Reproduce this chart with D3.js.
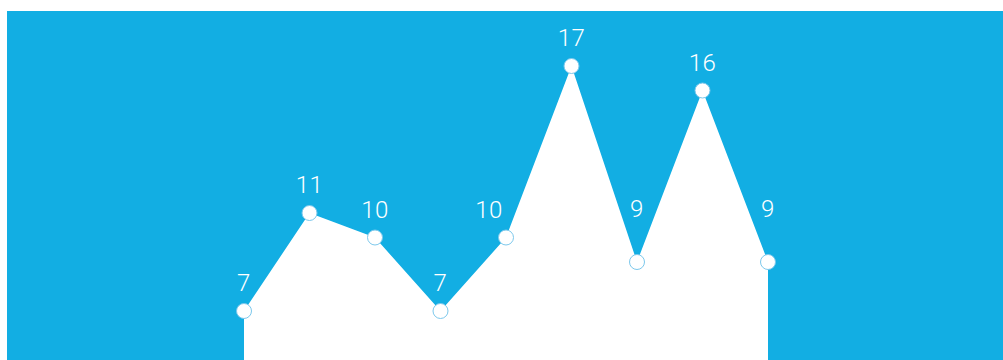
<!DOCTYPE html>
<html><head><meta charset="utf-8">
<script src="https://cdn.jsdelivr.net/npm/d3@7"></script>
<style>body{margin:0;background:#fff;overflow:hidden}svg{display:block}</style>
</head><body>
<script>
const categories = ["1","2","3","4","5","6","7","8","9"];
const values = [7, 11, 10, 7, 10, 17, 9, 16, 9];

const W = 1003, H = 360;
const svg = d3.select("body").append("svg").attr("width", W).attr("height", H);
svg.append("rect").attr("x", 7).attr("y", 11).attr("width", W - 7).attr("height", H - 11).attr("fill", "#12aee3");

const x = d3.scalePoint().domain(categories).range([244, 768]);
const y = d3.scaleLinear().domain([0, 17]).range([482.5, 66]);

const pts = values.map((v, i) => [x(categories[i]), y(v)]);

const area = d3.area().x(d => d[0]).y0(H + 5).y1(d => d[1]);
svg.append("path").datum(pts).attr("d", area).attr("fill", "#fff");

svg.selectAll("circle").data(pts).join("circle")
  .attr("cx", d => d[0]).attr("cy", d => d[1]).attr("r", 7.5)
  .attr("fill", "#fff").attr("stroke", "#7cc8ec").attr("stroke-width", 1);

// label placement avoiding the line
function lineY(px) {
  for (let i = 0; i < pts.length - 1; i++) {
    const [x0, y0] = pts[i], [x1, y1] = pts[i + 1];
    if (px >= x0 && px <= x1) return y0 + (y1 - y0) * (px - x0) / (x1 - x0);
  }
  return Infinity;
}
const fs = 24, gap = 20;
const labels = values.map((v, i) => {
  const [px, py] = pts[i];
  const hw = String(v).length * 23 * 0.28 + 4;
  const cands = [[0, 0], [-17, 0], [0, -25], [17, 0]];
  for (const [dx, dy] of cands) {
    const cx = px + dx, bottom = py - gap + dy;
    let ok = true;
    for (let s = cx - hw; s <= cx + hw; s += 1) if (lineY(s) < bottom) { ok = false; break; }
    if (ok) return {v, x: cx, y: bottom};
  }
  return {v, x: px, y: py - gap};
});

svg.selectAll("text.lbl").data(labels).join("text").attr("class", "lbl")
  .attr("x", d => d.x).attr("y", d => d.y)
  .attr("text-anchor", "middle").attr("fill", "#fff")
  .attr("font-family", "Roboto, 'Open Sans', sans-serif").attr("font-weight", 300).attr("font-size", fs)
  .attr("letter-spacing", 0.5)
  .text(d => d.v);
</script>
</body></html>
